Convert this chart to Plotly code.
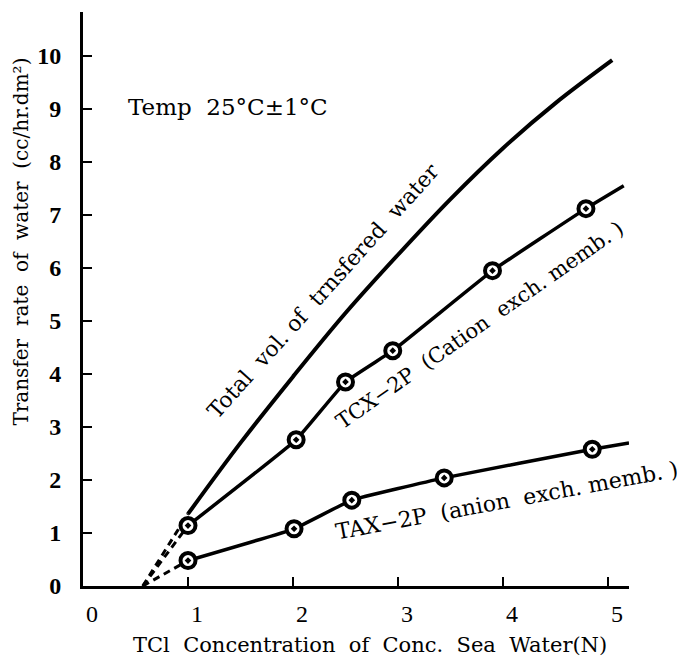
import plotly.graph_objects as go

# ---- data ----
total_x = [1.0, 1.5, 2.0, 2.5, 3.0, 3.5, 4.0, 4.5, 5.04]
total_y = [1.36, 2.7, 3.95, 5.15, 6.25, 7.3, 8.26, 9.11, 9.92]

tcx_x = [1.0, 2.03, 2.5, 2.95, 3.9, 4.79]
tcx_y = [1.14, 2.76, 3.85, 4.44, 5.95, 7.12]
tcx_end_x = [5.15]
tcx_end_y = [7.55]

tax_x = [1.0, 2.01, 2.56, 3.44, 4.85]
tax_y = [0.48, 1.08, 1.62, 2.04, 2.58]
tax_end_x = [5.20]
tax_end_y = [2.70]

origin_x = [0.57]
origin_y = [0.0]

x_ticks = [0, 1, 2, 3, 4, 5]
y_ticks = [0, 1, 2, 3, 4, 5, 6, 7, 8, 9, 10]

SERIF = "DejaVu Serif"
NUM = "Liberation Serif"

fig = go.Figure()

# dashed extrapolations to the x-axis
for xs, ys in [([origin_x[0], total_x[0]], [origin_y[0], total_y[0]]),
               ([origin_x[0], tcx_x[0]], [origin_y[0], tcx_y[0]]),
               ([origin_x[0], tax_x[0]], [origin_y[0], tax_y[0]])]:
    fig.add_trace(go.Scatter(x=xs, y=ys, mode="lines",
                             line=dict(color="black", width=3, dash="7px,5px"),
                             showlegend=False, hoverinfo="skip"))

# total volume curve
fig.add_trace(go.Scatter(x=total_x, y=total_y, mode="lines",
                         line=dict(color="black", width=4, shape="spline", smoothing=1.0),
                         showlegend=False))

# TCX-2P
fig.add_trace(go.Scatter(x=tcx_x + tcx_end_x, y=tcx_y + tcx_end_y, mode="lines",
                         line=dict(color="black", width=3.5, shape="spline", smoothing=0.3),
                         showlegend=False))
fig.add_trace(go.Scatter(x=tcx_x, y=tcx_y, mode="markers",
                         marker=dict(symbol="circle-dot", size=15, color="white",
                                     line=dict(color="black", width=4)),
                         showlegend=False))

# TAX-2P
fig.add_trace(go.Scatter(x=tax_x + tax_end_x, y=tax_y + tax_end_y, mode="lines",
                         line=dict(color="black", width=3.5, shape="spline", smoothing=0.3),
                         showlegend=False))
fig.add_trace(go.Scatter(x=tax_x, y=tax_y, mode="markers",
                         marker=dict(symbol="circle-dot", size=15, color="white",
                                     line=dict(color="black", width=4)),
                         showlegend=False))

annos = [
    dict(x=1.38, y=9.04, xref="x", yref="y", text="Temp  25°C±1°C",
         font=dict(family=SERIF, size=23, color="black"), showarrow=False),
    dict(x=2.29, y=5.58, xref="x", yref="y", text="Total  vol. of  trnsfered  water",
         textangle=-48, font=dict(family=SERIF, size=22, color="black"), showarrow=False),
    dict(x=3.78, y=4.93, xref="x", yref="y", text="TCX−2P  (Cation  exch. memb. )",
         textangle=-35, font=dict(family=SERIF, size=21, color="black"), showarrow=False),
    dict(x=4.04, y=1.61, xref="x", yref="y", text="TAX−2P  (anion  exch. memb. )",
         textangle=-10.5, font=dict(family=SERIF, size=22, color="black"), showarrow=False),
    dict(x=0.526, y=0, xref="paper", yref="paper", yshift=-59, yanchor="middle",
         xanchor="center",
         text="TCl  Concentration  of  Conc.  Sea  Water(N)",
         font=dict(family=SERIF, size=21, color="black"), showarrow=False),
    dict(x=0, y=0.60, xref="paper", yref="paper", xshift=-62, xanchor="center",
         yanchor="middle",
         text="Transfer  rate  of  water  (cc/hr.dm²)", textangle=-90,
         font=dict(family=SERIF, size=20, color="black"), showarrow=False),
]

fig.update_layout(
    width=685, height=663,
    margin=dict(l=75, r=64, t=4, b=85),
    paper_bgcolor="white", plot_bgcolor="white",
    annotations=annos,
    xaxis=dict(range=[0, 5.2], tickvals=x_ticks, showgrid=False, zeroline=False,
               showline=True, linecolor="black", linewidth=3,
               ticks="inside", ticklen=9, tickwidth=2, tickcolor="black",
               ticklabelstandoff=4, ticklabelshift=9,
               tickfont=dict(family=NUM, size=24, color="black")),
    yaxis=dict(range=[0, 10.83], tickvals=y_ticks, showgrid=False, zeroline=False,
               showline=True, linecolor="black", linewidth=3,
               ticks="inside", ticklen=9, tickwidth=2, tickcolor="black",
               ticklabelstandoff=14,
               tickfont=dict(family=NUM, size=24, color="black", weight="bold")),
)

fig.write_html("out.html")
